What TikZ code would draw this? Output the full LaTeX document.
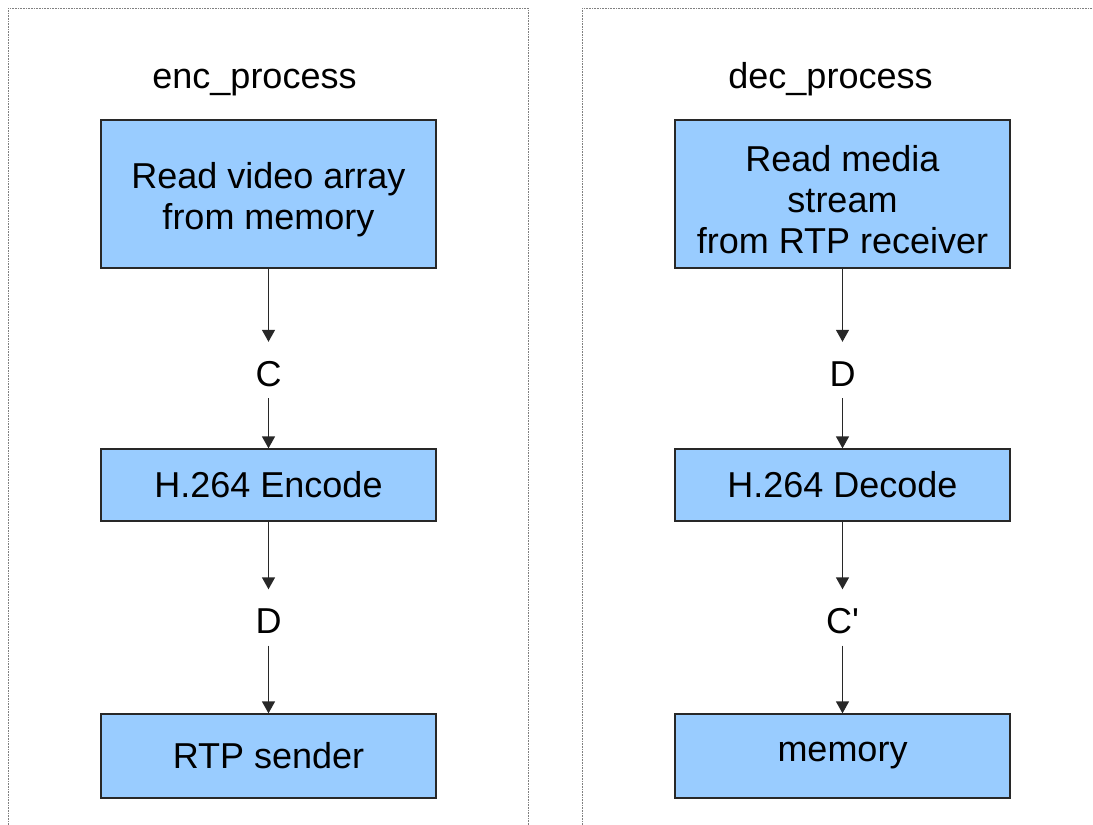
\documentclass[tikz,border=0pt]{standalone}
\usepackage{fontspec}
\setmainfont{Liberation Sans}
\usetikzlibrary{arrows.meta}
\definecolor{boxblue}{RGB}{153,204,255}
\definecolor{edgegray}{RGB}{40,40,40}
% taller first line so multi-line box texts sit a little lower
\newcommand{\firstline}{\rule{0pt}{37bp}}
\begin{document}
\begin{tikzpicture}[x=1bp,y=-1bp,
  every node/.style={font=\fontsize{36bp}{41bp}\selectfont},
  procbox/.style={rectangle, draw=edgegray, fill=boxblue, line width=1.3bp,
    minimum width=335bp, inner sep=0pt, align=center},
  flowlabel/.style={inner sep=0pt, minimum height=56bp, text height=32bp, text depth=0pt},
  flow/.style={draw=edgegray, line width=1.4bp, -{Triangle[width=13bp,length=12bp]}},
  frame/.style={draw=gray, line width=0.9bp, dash pattern=on 1bp off 0.6bp}]
  \useasboundingbox (0,0) rectangle (1093,825);

  % process frames (open at the bottom)
  \draw[frame] (8,830) -- (8,8) -- (528,8) -- (528,830);
  \draw[frame] (582,830) -- (582,8) -- (1100,8);

  % encoder side
  \node[anchor=base] (enctitle) at (254.5,88) {enc\_process};
  \node[procbox, minimum height=148bp] (read) at (268.5,194) {\firstline Read video array\\from memory};
  \node[flowlabel] (c) at (268.5,370) {C};
  \node[procbox, minimum height=72bp] (enc) at (268.5,485) {H.264 Encode};
  \node[flowlabel] (d) at (268.5,617.5) {D};
  \node[procbox, minimum height=84bp] (send) at (268.5,756) {RTP sender};

  \draw[flow] (read) -- (c);
  \draw[flow] (c) -- (enc);
  \draw[flow] (enc) -- (d);
  \draw[flow] (d) -- (send);

  % decoder side
  \node[anchor=base] (dectitle) at (830.5,88) {dec\_process};
  \node[procbox, minimum height=148bp] (recv) at (842.5,194) {\firstline Read media\\stream\\from RTP receiver};
  \node[flowlabel] (d2) at (842.5,370) {D};
  \node[procbox, minimum height=72bp] (dec) at (842.5,485) {H.264 Decode};
  \node[flowlabel] (c2) at (842.5,617.5) {C\textquotesingle};
  \node[procbox, minimum height=84bp] (mem) at (842.5,756) {memory};

  \draw[flow] (recv) -- (d2);
  \draw[flow] (d2) -- (dec);
  \draw[flow] (dec) -- (c2);
  \draw[flow] (c2) -- (mem);
\end{tikzpicture}
\end{document}
